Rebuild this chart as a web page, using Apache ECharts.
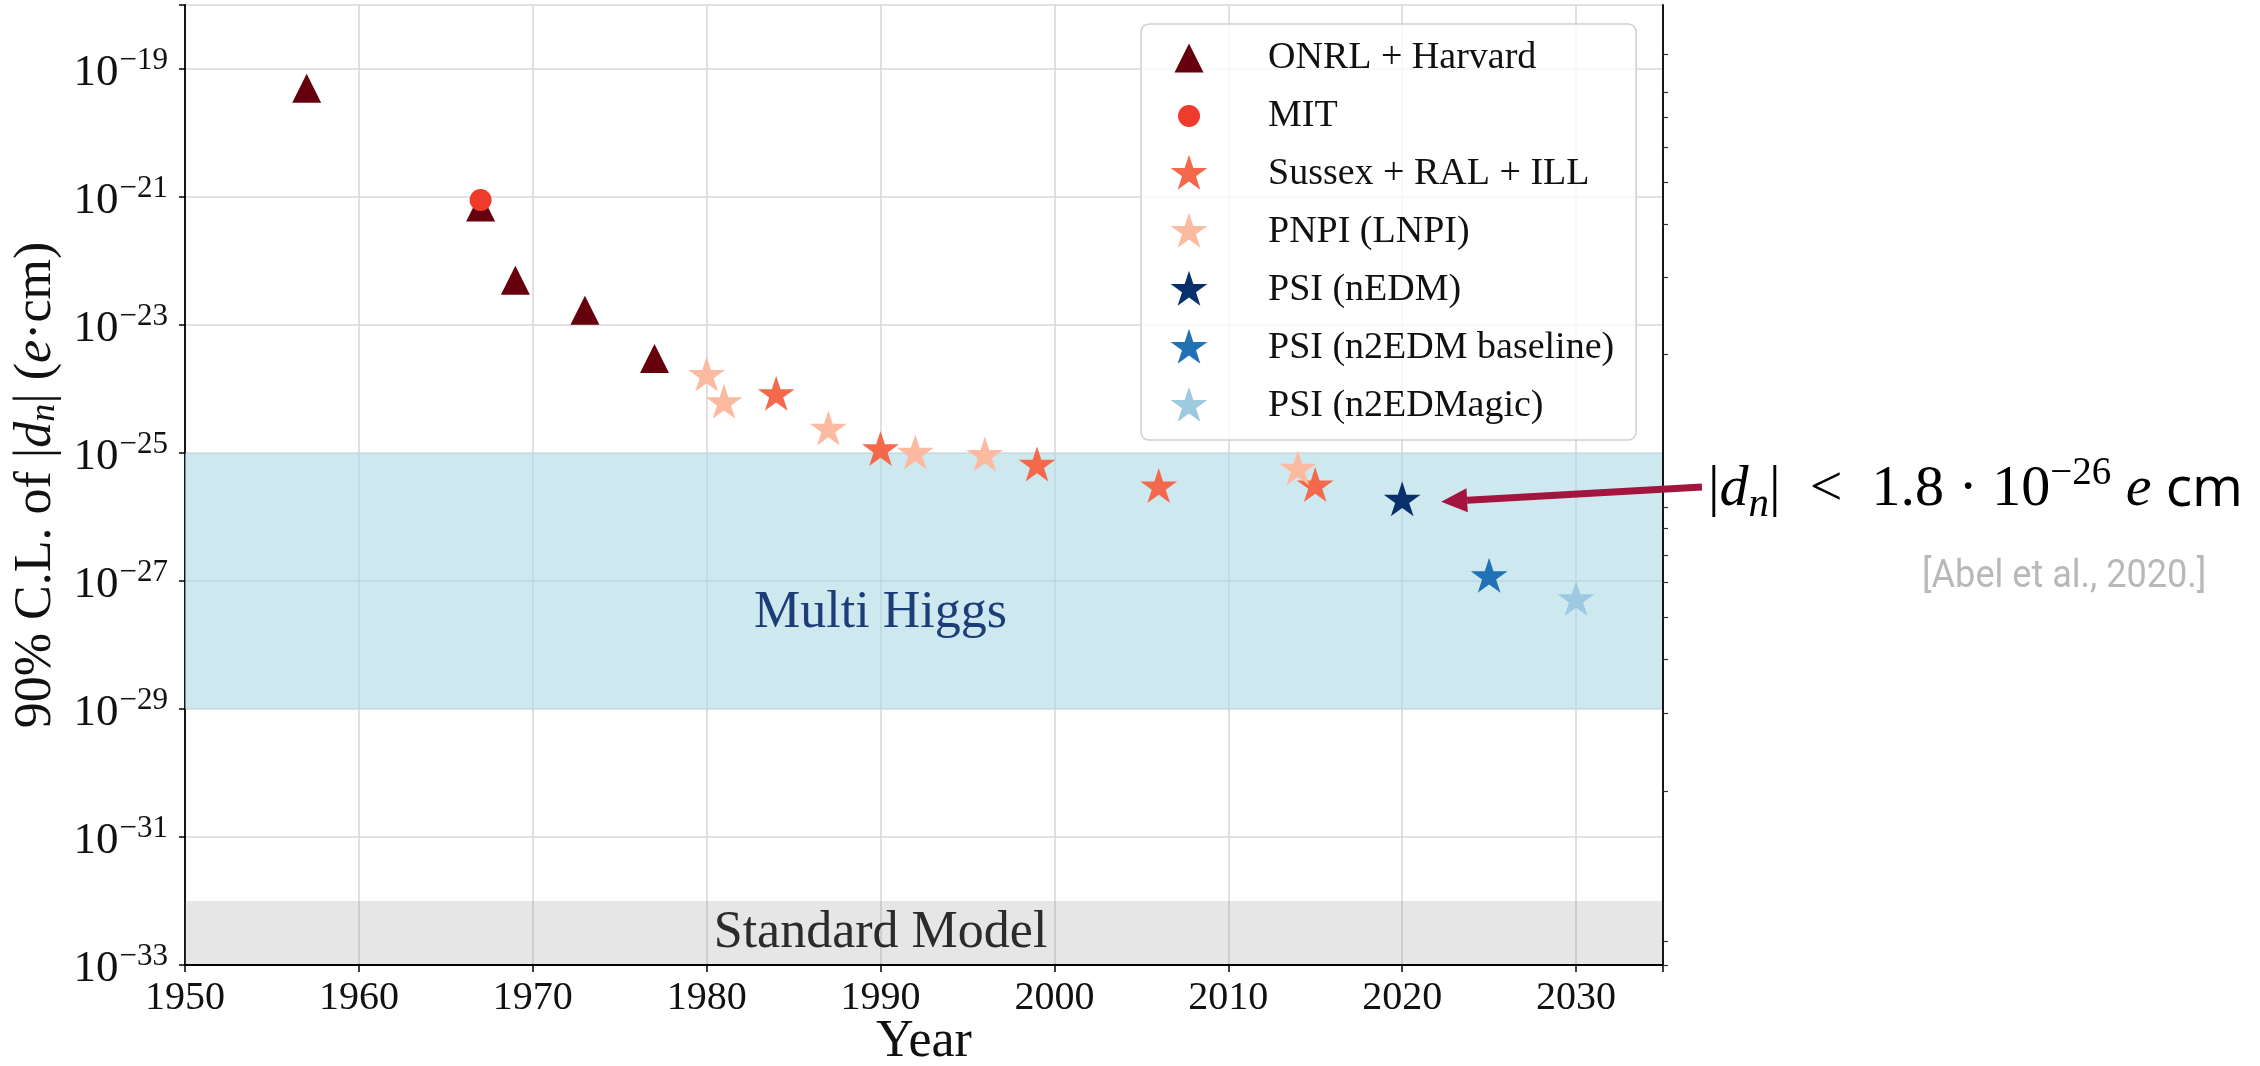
<!DOCTYPE html>
<html>
<head>
<meta charset="utf-8">
<script src="https://cdn.jsdelivr.net/npm/echarts@6/dist/echarts.min.js"></script>
<style>
  html, body { margin: 0; padding: 0; background: #ffffff; }
  #chart { width: 2260px; height: 1066px; }
</style>
</head>
<body>
<div id="chart"></div>
<script>
// Neutron EDM upper limits (90% C.L.), in e·cm, grouped by experiment
const onrlYears = [1957, 1967, 1969, 1973, 1977];
const onrlLimits = [5e-20, 7e-22, 5e-23, 1.7e-23, 3e-24];
const mitYears = [1967];
const mitLimits = [9e-22];
const sussexYears = [1984, 1990, 1999, 2006, 2015];
const sussexLimits = [8e-25, 1.1e-25, 6.3e-26, 2.9e-26, 3.0e-26];
const pnpiYears = [1980, 1981, 1987, 1992, 1996, 2014];
const pnpiLimits = [1.6e-24, 6e-25, 2.3e-25, 9.7e-26, 9e-26, 5.5e-26];
const psiYears = [2020];
const psiLimits = [1.8e-26];
const n2edmYears = [2025];
const n2edmLimits = [1.15e-27];
const magicYears = [2030];
const magicLimits = [5e-28];

// Theory expectation bands (e·cm)
const multiHiggsBand = [1e-29, 1e-25];
const standardModelBand = [1e-33, 1e-32];
const bandLabelYear = 1990;
const multiHiggsLabelValue = 10 ** -27.5;
const standardModelLabelValue = 10 ** -32.5;

// Axis ranges: years, and decades of |d_n|
const yearMin = 1950, yearMax = 2035, yearStep = 10;
const LOG_FLOOR = -33, LOG_CEIL = -18, decadeStep = 2;
// Small tick marks on the right-hand frame (in log10 e·cm)
const rightFrameTicks = [-18.77, -19.36, -19.75, -20.22, -20.77, -21.42, -22.25, -23.45,
  -25.84, -26.17, -26.59, -27.02, -27.56, -28.23, -29.06, -30.28, -32.63, -33.0];

// The y axis counts decades above 10^-33
const dec = v => Math.log10(v) - LOG_FLOOR;

const SERIF = '"Liberation Serif", "DejaVu Serif", serif';
const SANS = '"Open Sans", "Noto Sans", sans-serif';

// Marker shapes, all drawn inside the same [-1, 1] box so they share one symbol size
function starPath(r) {
  const pts = [];
  for (let k = 0; k < 10; k++) {
    const a = -Math.PI / 2 + k * Math.PI / 5;
    const rr = k % 2 === 0 ? r : r * 0.381966;
    pts.push((rr * Math.cos(a)).toFixed(4) + ' ' + (rr * Math.sin(a)).toFixed(4));
  }
  return 'path://M-1 -1 M1 1 M' + pts.join(' L') + ' Z';
}
const TRIANGLE = 'path://M-1 -1 M1 1 M0 -0.725 L0.725 0.725 L-0.725 0.725 Z';
const CIRCLE = 'path://M-1 -1 M1 1 M-0.55 0 A0.55 0.55 0 1 1 0.55 0 A0.55 0.55 0 1 1 -0.55 0 Z';
const STAR = starPath(0.967);
const MARK_BOX = 40;

const groups = [
  { name: 'ONRL + Harvard', years: onrlYears, limits: onrlLimits, symbol: TRIANGLE, color: '#67000d' },
  { name: 'MIT', years: mitYears, limits: mitLimits, symbol: CIRCLE, color: '#ef3b2c' },
  { name: 'Sussex + RAL + ILL', years: sussexYears, limits: sussexLimits, symbol: STAR, color: '#f4694b' },
  { name: 'PNPI (LNPI)', years: pnpiYears, limits: pnpiLimits, symbol: STAR, color: '#fcbba1' },
  { name: 'PSI (nEDM)', years: psiYears, limits: psiLimits, symbol: STAR, color: '#08306b' },
  { name: 'PSI (n2EDM baseline)', years: n2edmYears, limits: n2edmLimits, symbol: STAR, color: '#2171b5' },
  { name: 'PSI (n2EDMagic)', years: magicYears, limits: magicLimits, symbol: STAR, color: '#9ecae1' }
];

const pointSeries = groups.map(g => ({
  type: 'scatter',
  name: g.name,
  data: g.years.map((y, i) => [y, dec(g.limits[i])]),
  symbol: g.symbol,
  symbolSize: MARK_BOX,
  itemStyle: { color: g.color, opacity: 1 },
  silent: true,
  z: 3
}));

// Shaded bands and their titles
const bandSeries = {
  type: 'scatter',
  name: 'bands',
  data: [
    { value: [bandLabelYear, dec(multiHiggsLabelValue)], label: { formatter: 'Multi Higgs', color: '#1c3d78' } },
    { value: [bandLabelYear, dec(standardModelLabelValue)], label: { formatter: 'Standard Model', color: '#2b2b2b' } }
  ],
  symbolSize: 1,
  itemStyle: { color: 'rgba(0,0,0,0)' },
  label: { show: true, position: 'inside', fontFamily: SERIF, fontSize: 52, opacity: 1 },
  silent: true,
  z: 2,
  markArea: {
    silent: true,
    label: { show: false },
    data: [
      [{ yAxis: dec(multiHiggsBand[0]), itemStyle: { color: 'rgba(173,216,230,0.6)' } }, { yAxis: dec(multiHiggsBand[1]) }],
      [{ yAxis: dec(standardModelBand[0]), itemStyle: { color: 'rgba(128,128,128,0.2)' } }, { yAxis: dec(standardModelBand[1]) }]
    ]
  }
};

const chart = echarts.init(document.getElementById('chart'), null, { renderer: 'canvas' });

const option = {
  animation: false,
  backgroundColor: '#ffffff',
  grid: { left: 185, top: 5, width: 1478, height: 960, containLabel: false, outerBoundsMode: 'none' },
  legend: {
    data: groups.map(g => g.name),
    orient: 'vertical',
    left: 1141,
    top: 24,
    itemWidth: 40,
    itemHeight: 40,
    itemGap: 18,
    padding: [14, 22, 14, 28],
    backgroundColor: 'rgba(255,255,255,0.8)',
    borderColor: '#cfcfcf',
    borderWidth: 1.5,
    borderRadius: 8,
    selectedMode: false,
    formatter: n => '{g|}' + n,
    textStyle: { fontFamily: SERIF, fontSize: 38, color: '#111111', rich: { g: { width: 54 } } }
  },
  xAxis: [
    {
      type: 'value',
      min: yearMin, max: yearMax, interval: yearStep,
      name: 'Year',
      nameLocation: 'middle',
      nameGap: 77,
      nameMoveOverlap: false,
      nameTextStyle: { fontFamily: SERIF, fontSize: 52, color: '#111111', verticalAlign: 'middle' },
      axisLine: { show: true, onZero: false, lineStyle: { color: '#000000', width: 1.8 } },
      axisTick: { show: true, inside: false, length: 7, lineStyle: { color: '#000000', width: 1.5 } },
      axisLabel: {
        fontFamily: SERIF, fontSize: 40, color: '#111111', margin: 13,
        formatter: v => (v % yearStep === 0 ? String(v) : '')
      },
      splitLine: { show: true, lineStyle: { color: '#d9d9d9', width: 1.6 } }
    },
    {
      type: 'value', position: 'top',
      min: yearMin, max: yearMax,
      axisLine: { show: true, lineStyle: { color: '#000000', width: 1.8 } },
      axisTick: { show: false }, axisLabel: { show: false }, splitLine: { show: false },
      z: 10
    }
  ],
  yAxis: [
    {
      type: 'value',
      min: 0, max: LOG_CEIL - LOG_FLOOR, interval: decadeStep,
      name: '90% C.L. of |{it|d}{sub|n}| ({it|e}·cm)',
      nameLocation: 'middle',
      nameRotate: 90,
      nameGap: 112,
      nameTextStyle: {
        fontFamily: SERIF, fontSize: 52, color: '#111111',
        rich: {
          it: { fontFamily: SERIF, fontSize: 52, fontStyle: 'italic', color: '#111111' },
          sub: { fontFamily: SERIF, fontSize: 36, fontStyle: 'italic', color: '#111111', padding: [16, 0, 0, 0] }
        }
      },
      axisLine: { show: true, onZero: false, lineStyle: { color: '#000000', width: 1.8 } },
      axisTick: { show: true, inside: false, length: 6, lineStyle: { color: '#000000', width: 1.5 } },
      axisLabel: {
        margin: 17,
        formatter: v => {
          const e = Math.round(v + LOG_FLOOR);
          if (e >= LOG_CEIL) return '';
          return '{b|10}{s|\u2212' + (-e) + '}';
        },
        rich: {
          b: { fontFamily: SERIF, fontSize: 45, color: '#111111', padding: [9, 0, 0, 0] },
          s: { fontFamily: SERIF, fontSize: 31, color: '#111111', padding: [0, 0, 16, 1] }
        }
      },
      splitLine: { show: true, lineStyle: { color: '#d9d9d9', width: 1.6 } }
    },
    {
      type: 'value', position: 'right',
      min: 0, max: LOG_CEIL - LOG_FLOOR,
      axisLine: { show: true, lineStyle: { color: '#000000', width: 1.8 } },
      axisTick: {
        show: true, inside: false, length: 5,
        customValues: rightFrameTicks.map(t => t - LOG_FLOOR),
        lineStyle: { color: '#333333', width: 1.2 }
      },
      axisLabel: { show: false },
      splitLine: { show: false },
      z: 10
    }
  ],
  series: [bandSeries].concat(pointSeries)
};

chart.setOption(option);

// Annotation: the current PSI limit, with an arrow pointing at its marker
const psiIndex = 1 + groups.findIndex(g => g.name === 'PSI (nEDM)');
const psiPx = chart.convertToPixel({ seriesIndex: psiIndex }, [psiYears[0], dec(psiLimits[0])]);
const tip = [psiPx[0] + 39, psiPx[1] + 1];
const tail = [1702, 487];
const ang = Math.atan2(tail[1] - tip[1], tail[0] - tip[0]);
const headLen = 26, headHalf = 12;
const base = [tip[0] + headLen * Math.cos(ang), tip[1] + headLen * Math.sin(ang)];
const nx = -Math.sin(ang), ny = Math.cos(ang);
const ARROW = '#a3143f';

chart.setOption({
  graphic: [
    {
      type: 'line', silent: true, z: 20,
      shape: { x1: tail[0], y1: tail[1], x2: base[0], y2: base[1] },
      style: { stroke: ARROW, lineWidth: 7 }
    },
    {
      type: 'polygon', silent: true, z: 20,
      shape: { points: [tip, [base[0] + nx * headHalf, base[1] + ny * headHalf], [base[0] - nx * headHalf, base[1] - ny * headHalf]] },
      style: { fill: ARROW }
    },
    {
      type: 'text', silent: true, z: 20,
      x: 1708, y: 490,
      style: {
        text: '{t||}{it|d}{sb|n}{t|| \u00a0<\u00a0 1.8 · 10}{sp|\u221226}{t| }{it|e}{cm| cm}',
        verticalAlign: 'middle',
        align: 'left',
        rich: {
          t: { fontFamily: SERIF, fontSize: 58, fill: '#000000', lineHeight: 72 },
          it: { fontFamily: SERIF, fontSize: 58, fontStyle: 'italic', fill: '#000000', lineHeight: 72 },
          sb: { fontFamily: SERIF, fontSize: 41, fontStyle: 'italic', fill: '#000000', lineHeight: 34, verticalAlign: 'bottom' },
          sp: { fontFamily: SERIF, fontSize: 39, fill: '#000000', lineHeight: 36, verticalAlign: 'top' },
          cm: { fontFamily: SANS, fontSize: 55, fill: '#000000', lineHeight: 72 }
        }
      }
    },
    {
      type: 'text', silent: true, z: 20,
      x: 1922, y: 577,
      scaleX: 0.95, originX: 0,
      style: {
        text: '[Abel et al., 2020.]',
        fontFamily: 'Roboto, "Open Sans", sans-serif',
        fontSize: 38,
        fill: '#b8b8b8',
        verticalAlign: 'middle',
        align: 'left'
      }
    }
  ]
});
</script>
</body>
</html>
